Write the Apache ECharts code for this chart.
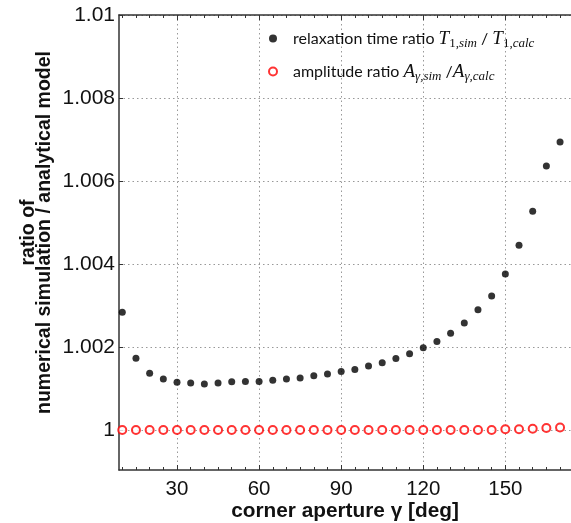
<!DOCTYPE html>
<html>
<head>
<meta charset="utf-8">
<script src="https://cdn.jsdelivr.net/npm/echarts@6/dist/echarts.min.js"></script>
<style>
html,body{margin:0;padding:0;background:#fff;}
#chart{width:571px;height:523px;}
</style>
</head>
<body>
<div id="chart"></div>
<script>
// corner aperture gamma [deg]
const apertureDeg = [10,15,20,25,30,35,40,45,50,55,60,65,70,75,80,85,90,95,100,105,110,115,120,125,130,135,140,145,150,155,160,165,170];
// relaxation time ratio T1,sim / T1,calc
const relaxRatio = [1.00284,1.00173,1.00137,1.00123,1.00115,1.00113,1.00111,1.00113,1.00116,1.00117,1.00117,1.00120,1.00123,1.00125,1.00131,1.00135,1.00141,1.00146,1.00154,1.00162,1.00172,1.00184,1.00198,1.00213,1.00233,1.00258,1.00290,1.00323,1.00376,1.00445,1.00527,1.00636,1.00694];
// amplitude ratio A_gamma,sim / A_gamma,calc
const amplitudeRatio = [1,1,1,1,1,1,1,1,1,1,1,1,1,1,1,1,1,1,1,1,1,1,1,1,1,1,1,1,1.00002,1.00002,1.00003,1.00005,1.00006];
// tick labels
const xMajorTicks = [30,60,90,120,150];
const xMinorTicks = [10,15,20,25,35,40,45,50,55,65,70,75,80,85,95,100,105,110,115,125,130,135,140,145,155,160,165,170];
const yTicks = [1,1.002,1.004,1.006,1.008,1.01];

const seriesNames = ['relax', 'amp'];

const chart = echarts.init(document.getElementById('chart'), null, {renderer: 'canvas'});

const axisColor = '#333';
const gridStyle = {color: '#999', type: [1.5, 3], width: 1};
const xMin = 8.8, xMax = 174, yMin = 0.999036, yMax = 1.01;

function xAxisBase(pos) {
  return {type: 'value', min: xMin, max: xMax, position: pos,
    axisLine: {show: false}, axisLabel: {show: false}, splitLine: {show: false},
    axisTick: {show: false}};
}

const option = {
  animation: false,
  backgroundColor: '#fff',
  grid: {left: 119, right: 0, top: 15, bottom: 53, containLabel: false, outerBoundsMode: 'none'},
  legend: {
    orient: 'vertical', left: 263, top: 22, itemGap: 10,
    itemWidth: 8, itemHeight: 8,
    data: [
      {name: 'relax', icon: 'circle', itemStyle: {color: '#000', borderWidth: 0}},
      {name: 'amp', icon: 'circle', itemStyle: {color: '#fff', borderColor: '#ff0000', borderWidth: 2}}
    ],
    formatter: function (name) {
      if (name === 'relax') {
        return '{n0|relaxation time ratio }{i|T}{u|1,}{s|sim}{n| / }{i|T}{u|1,}{s|calc}';
      }
      return '{n0|amplitude ratio }{i|A}{s|γ,sim}{n| /}{i|A}{s|γ,calc}';
    },
    textStyle: {
      color: '#111',
      rich: {
        n0: {fontFamily: 'Lato', fontSize: 16, color: '#111', lineHeight: 22, padding: [0, 0, 0, 11]},
        n: {fontFamily: 'Lato', fontSize: 16, color: '#111', lineHeight: 22},
        i: {fontFamily: 'Liberation Serif', fontStyle: 'italic', fontSize: 19, color: '#111', lineHeight: 22},
        u: {fontFamily: 'Liberation Serif', fontSize: 13, color: '#111', lineHeight: 12, padding: [10, 0, 0, 0]},
        s: {fontFamily: 'Liberation Serif', fontStyle: 'italic', fontSize: 13, color: '#111', lineHeight: 12, padding: [10, 0, 0, 0]}
      }
    }
  },
  xAxis: [
    {
      type: 'value', min: xMin, max: xMax, position: 'bottom',
      name: 'corner aperture γ [deg]', nameLocation: 'middle', nameGap: 31, nameMoveOverlap: false,
      nameTextStyle: {fontFamily: 'Liberation Sans', fontSize: 20.8, fontWeight: 'bold', color: '#111'},
      axisLine: {show: true, onZero: false, lineStyle: {color: axisColor, width: 1.5}},
      axisTick: {show: true, inside: true, length: 5, customValues: xMajorTicks, lineStyle: {color: axisColor}},
      axisLabel: {show: true, customValues: xMajorTicks, margin: 9, fontFamily: 'Liberation Sans', fontSize: 20.5, color: '#111'},
      splitLine: {show: true, lineStyle: gridStyle}
    },
    Object.assign(xAxisBase('bottom'), {
      axisTick: {show: true, inside: true, length: 3, customValues: xMinorTicks, lineStyle: {color: axisColor}}
    }),
    Object.assign(xAxisBase('top'), {
      axisLine: {show: true, onZero: false, lineStyle: {color: axisColor, width: 1.5}},
      axisTick: {show: true, inside: true, length: 3, customValues: xMinorTicks, lineStyle: {color: axisColor}}
    }),
    Object.assign(xAxisBase('top'), {
      axisTick: {show: true, inside: true, length: 5, customValues: xMajorTicks, lineStyle: {color: axisColor}}
    })
  ],
  yAxis: [
    {
      type: 'value', min: yMin, max: yMax, position: 'left',
      name: 'ratio of\nnumerical simulation / analytical model', nameLocation: 'middle', nameGap: 66, nameMoveOverlap: false,
      nameTextStyle: {fontFamily: 'Liberation Sans', fontSize: 19.5, fontWeight: 'bold', color: '#111', lineHeight: 16.5,
        padding: [0, 0, 0, 20]},
      axisLine: {show: true, onZero: false, lineStyle: {color: axisColor, width: 1.5}},
      axisTick: {show: true, inside: true, length: 4, customValues: yTicks, lineStyle: {color: axisColor}},
      axisLabel: {show: true, customValues: yTicks, margin: 4, fontFamily: 'Liberation Sans', fontSize: 21, color: '#111',
        formatter: function (v) { return String(Math.round(v * 1000) / 1000); }},
      splitLine: {show: true, lineStyle: gridStyle}
    }
  ],
  series: [
    {
      name: seriesNames[0], type: 'scatter', xAxisIndex: 0, yAxisIndex: 0,
      symbol: 'circle', symbolSize: 7,
      itemStyle: {color: '#000'},
      data: apertureDeg.map((x, i) => [x, relaxRatio[i]]),
      z: 3
    },
    {
      name: seriesNames[1], type: 'scatter', xAxisIndex: 0, yAxisIndex: 0,
      symbol: 'circle', symbolSize: 8,
      itemStyle: {color: '#fff', borderColor: '#ff0000', borderWidth: 2},
      data: apertureDeg.map((x, i) => [x, amplitudeRatio[i]]),
      z: 4
    }
  ]
};
chart.setOption(option);
</script>
</body>
</html>
